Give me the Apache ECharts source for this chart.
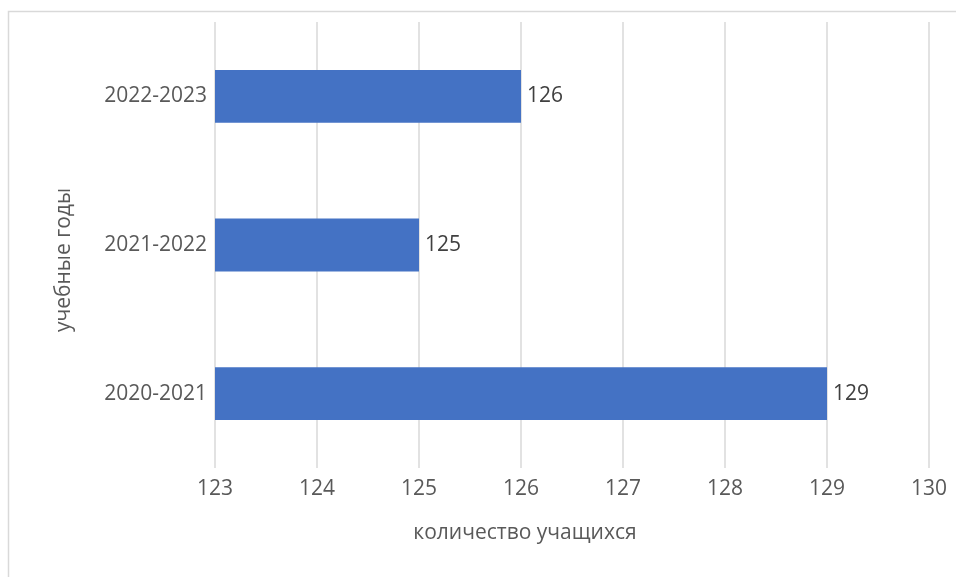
<!DOCTYPE html>
<html>
<head>
<meta charset="utf-8">
<script src="https://cdn.jsdelivr.net/npm/echarts@6/dist/echarts.min.js"></script>
<style>
  html, body { margin: 0; padding: 0; background: #fff; }
  #chart { width: 956px; height: 577px; }
</style>
</head>
<body>
<div id="chart"></div>
<script>
const years = ['2020-2021', '2021-2022', '2022-2023'];
const students = [129, 125, 126];
const xTicks = [123, 124, 125, 126, 127, 128, 129, 130];

const font = '"Open Sans", sans-serif';

let chart = echarts.init(document.getElementById('chart'));
let option = {
  animation: false,
  graphic: [{
    type: 'rect',
    shape: { x: 8.5, y: 11.5, width: 1200, height: 1200 },
    style: { fill: 'none', stroke: '#d9d9d9', lineWidth: 1.5 },
    silent: true
  }],
  grid: {
    left: 215,
    right: 27,
    top: 22,
    bottom: 109,
    containLabel: false
  },
  xAxis: {
    type: 'value',
    min: xTicks[0],
    max: xTicks[xTicks.length - 1],
    interval: 1,
    name: 'количество учащихся',
    nameLocation: 'middle',
    nameGap: 55,
    nameTextStyle: {
      fontFamily: font,
      fontSize: 21,
      color: '#595959',
      padding: [0, 94, 0, 0]
    },
    axisLine: { show: false },
    axisTick: { show: false },
    axisLabel: {
      margin: 11,
      fontFamily: font,
      fontSize: 21,
      color: '#595959'
    },
    splitLine: {
      show: true,
      lineStyle: { color: '#d9d9d9', width: 1.5 }
    }
  },
  yAxis: {
    type: 'category',
    data: years,
    name: 'учебные годы',
    nameLocation: 'middle',
    nameGap: 140,
    nameTextStyle: {
      fontFamily: font,
      fontSize: 21,
      color: '#595959',
      padding: [0, 30, 0, 0]
    },
    axisLine: { show: false },
    axisTick: { show: false },
    axisLabel: {
      margin: 8,
      fontFamily: font,
      fontSize: 21,
      color: '#595959'
    },
    splitLine: { show: false }
  },
  series: [{
    type: 'bar',
    data: students,
    barWidth: '35.5%',
    itemStyle: { color: '#4472c4' },
    label: {
      show: true,
      position: 'right',
      distance: 6,
      fontFamily: font,
      fontSize: 21,
      color: '#404040'
    }
  }]
};
chart.setOption(option);
</script>
</body>
</html>
